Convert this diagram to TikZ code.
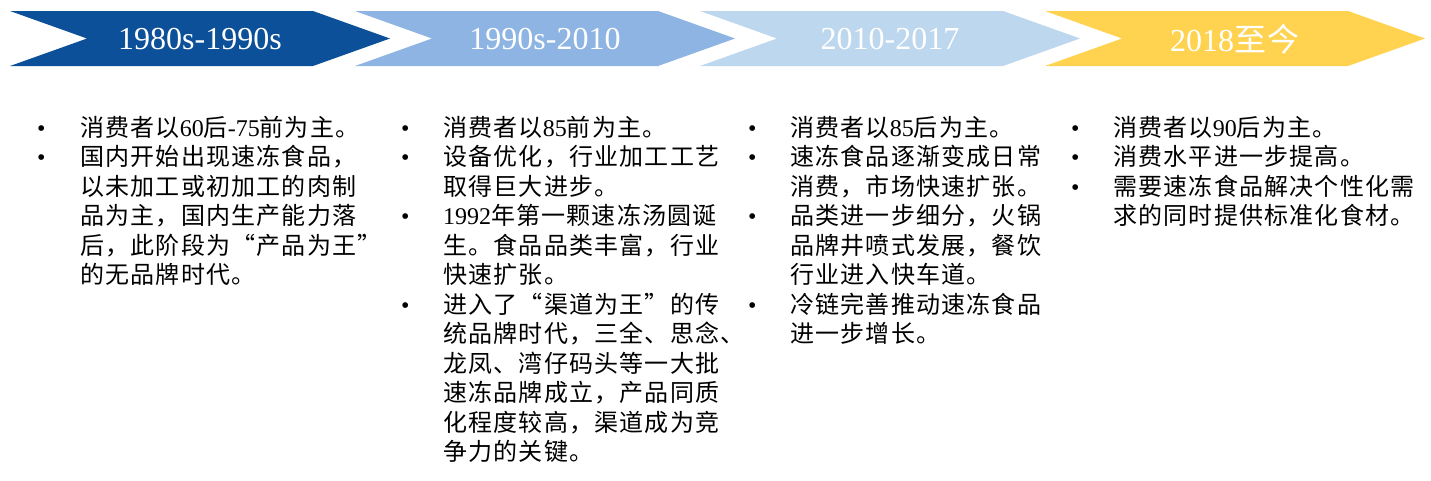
\documentclass[tikz,border=0pt]{standalone}
\usepackage{fontspec}
\setmainfont{Liberation Serif}
\newfontfamily\cjk[LetterSpace=5]{Noto Sans CJK SC}
\usetikzlibrary{positioning}
\definecolor{eraDark}{HTML}{0B5098}
\definecolor{eraMid}{HTML}{8DB4E2}
\definecolor{eraLight}{HTML}{BDD7EE}
\definecolor{eraGold}{HTML}{FFD34F}
\newcommand\lat[1]{{\rmfamily #1}}
\newcommand\bul{\lat{\textbullet}}

\begin{document}
\begin{tikzpicture}[
  x=1pt, y=-1pt,
  chevlabel/.style={text=white, inner sep=0pt, font=\fontsize{32}{32}\selectfont},
  itemlist/.style={anchor=north west, inner sep=0pt, align=left,
                   font=\fontsize{24}{29.5}\selectfont\cjk}
]
\useasboundingbox (0,0) rectangle (1431,480);

\foreach \i/\col/\lab in {0/eraDark/1980s-1990s, 1/eraMid/1990s-2010,
                          2/eraLight/2010-2017, 3/eraGold/{2018{\cjk 至今}}}{
  \fill[\col] ({10+345*\i},11) -- ({313+345*\i},11) -- ({390+345*\i},38.5)
    -- ({313+345*\i},66) -- ({10+345*\i},66) -- ({87+345*\i},38.5) -- cycle;
  \node[chevlabel] (era\i) at ({200+345*\i},39) {\lab};
}

\node[itemlist] (list0) at (37,115.5) {\begin{tabular}{@{}p{43pt}@{}l@{}}
\bul & 消费者以\lat{60}后\lat{-75}前为主。\\
\bul & 国内开始出现速冻食品，\\
 & 以未加工或初加工的肉制\\
 & 品为主，国内生产能力落\\
 & 后，此阶段为“产品为王”\\
 & 的无品牌时代。
\end{tabular}};

\node[itemlist] (list1) at (401,115.5) {\begin{tabular}{@{}p{42pt}@{}l@{}}
\bul & 消费者以\lat{85}前为主。\\
\bul & 设备优化，行业加工工艺\\
 & 取得巨大进步。\\
\bul & \lat{1992}年第一颗速冻汤圆诞\\
 & 生。食品品类丰富，行业\\
 & 快速扩张。\\
\bul & 进入了“渠道为王”的传\\
 & 统品牌时代，三全、思念、\\
 & 龙凤、湾仔码头等一大批\\
 & 速冻品牌成立，产品同质\\
 & 化程度较高，渠道成为竞\\
 & 争力的关键。
\end{tabular}};

\node[itemlist] (list2) at (748,115.5) {\begin{tabular}{@{}p{42pt}@{}l@{}}
\bul & 消费者以\lat{85}后为主。\\
\bul & 速冻食品逐渐变成日常\\
 & 消费，市场快速扩张。\\
\bul & 品类进一步细分，火锅\\
 & 品牌井喷式发展，餐饮\\
 & 行业进入快车道。\\
\bul & 冷链完善推动速冻食品\\
 & 进一步增长。
\end{tabular}};

\node[itemlist] (list3) at (1071,115.5) {\begin{tabular}{@{}p{42pt}@{}l@{}}
\bul & 消费者以\lat{90}后为主。\\
\bul & 消费水平进一步提高。\\
\bul & 需要速冻食品解决个性化需\\
 & 求的同时提供标准化食材。
\end{tabular}};

\end{tikzpicture}
\end{document}
